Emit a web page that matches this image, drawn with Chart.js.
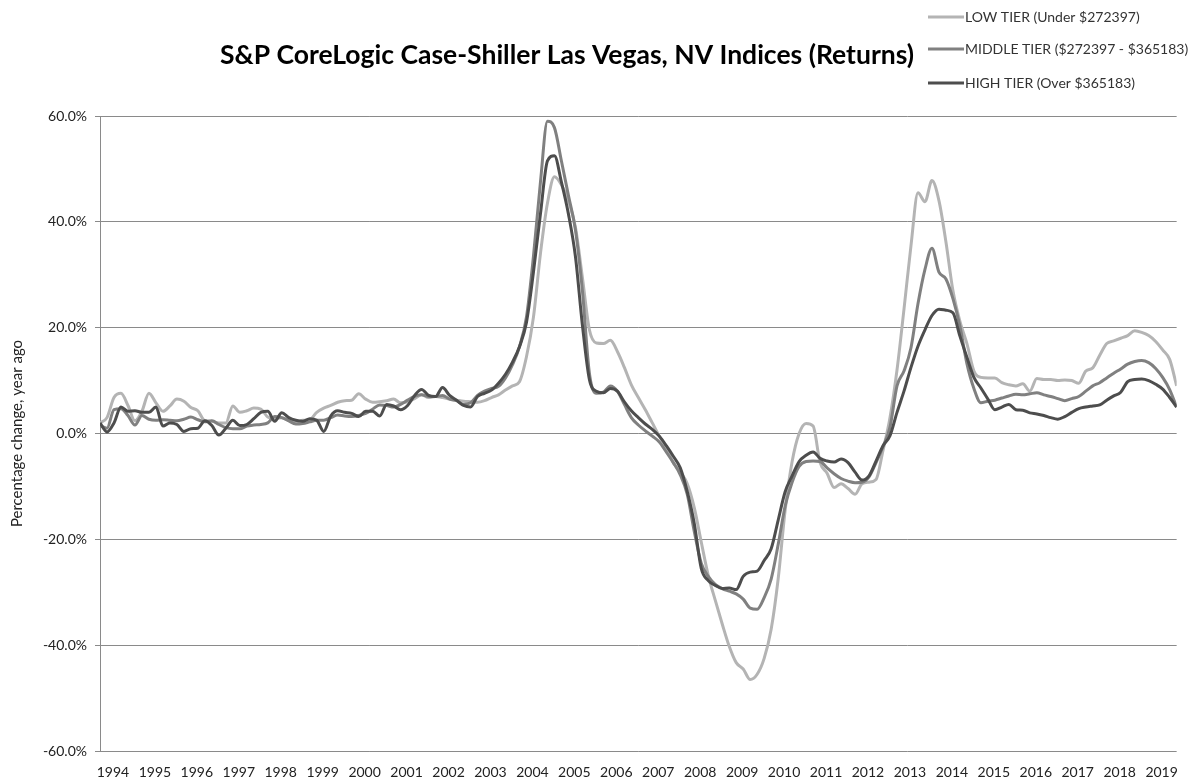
<!DOCTYPE html>
<html>
<head>
<meta charset="utf-8">
<script src="https://cdn.jsdelivr.net/npm/chart.js@4/dist/chart.umd.min.js"></script>
<style>
  html, body { margin: 0; padding: 0; background: #fff; }
  #wrap { position: relative; width: 1191px; height: 782px; }
</style>
</head>
<body>
<div id="wrap"><canvas id="myChart"></canvas></div>
<script>
// year-over-year returns, sampled every two months (first point ~late 1993)
const years = ['1994','1995','1996','1997','1998','1999','2000','2001','2002','2003','2004','2005','2006',
  '2007','2008','2009','2010','2011','2012','2013','2014','2015','2016','2017','2018','2019'];

const lowTier = [
  2.0, 3.0, 6.8, 7.6, 5.3, 2.4, 4.2, 7.6, 5.8, 4.2,
  5.2, 6.5, 6.1, 4.9, 4.3, 2.4, 2.3, 2.0, 2.0, 5.2,
  4.0, 4.3, 4.8, 4.6, 3.1, 2.8, 3.0, 2.5, 2.2, 2.5,
  2.6, 4.0, 4.8, 5.3, 5.9, 6.2, 6.3, 7.5, 6.5, 5.9,
  6.0, 6.2, 6.5, 5.8, 6.0, 6.6, 7.3, 6.8, 7.0, 6.8,
  6.5, 6.3, 6.1, 6.0, 5.9, 6.2, 6.8, 7.3, 8.2, 9.0,
  9.8, 14.5, 22.0, 34.0, 43.5, 48.5, 47.0, 44.0, 39.0, 29.5,
  19.6, 17.1, 17.0, 17.6, 15.5, 12.5, 9.2, 6.8, 4.5, 2.0,
  -0.5, -2.8, -5.5, -7.3, -9.5, -14.0, -20.5, -26.8, -31.5, -36.0,
  -40.2, -43.3, -44.5, -46.5, -45.5, -42.5, -37.0, -27.5, -14.5, -5.3,
  0.0, 1.9, 1.4, -5.5, -7.5, -10.2, -9.5, -10.4, -11.5, -9.5,
  -9.2, -8.7, -3.2, 3.0, 12.0, 23.5, 35.5, 45.5, 43.8, 47.8,
  44.0, 36.2, 27.0, 21.2, 17.0, 11.8, 10.6, 10.5, 10.5, 9.6,
  9.2, 9.0, 9.4, 8.0, 10.4, 10.2, 10.2, 10.0, 10.1, 10.0,
  9.5, 11.8, 12.4, 14.8, 17.0, 17.5, 18.0, 18.5, 19.4, 19.1,
  18.5, 17.4, 15.8, 14.0, 9.0
];

const middleTier = [
  1.5, 1.0, 4.5, 4.7, 3.4, 1.6, 3.4, 2.7, 2.5, 2.6,
  2.5, 2.4, 2.7, 3.1, 2.6, 2.2, 2.4, 1.7, 1.1, 0.9,
  0.9, 1.4, 1.6, 1.7, 2.0, 3.2, 3.0, 2.4, 1.8, 1.9,
  2.2, 2.5, 2.5, 3.0, 3.5, 3.3, 3.2, 3.4, 3.8, 4.6,
  5.4, 5.3, 5.0, 5.5, 6.3, 7.0, 7.3, 7.0, 7.0, 7.2,
  6.5, 6.2, 5.5, 5.8, 7.2, 8.0, 8.5, 8.9, 10.5, 13.0,
  16.4, 22.0, 33.5, 47.5, 59.0, 57.8, 51.5, 45.0, 38.5, 27.0,
  11.4, 7.6, 7.8, 9.0, 8.0, 5.5, 3.0, 1.6, 0.5, -0.5,
  -1.6, -3.5, -5.5, -7.8, -11.5, -18.5, -24.5, -27.0, -28.5, -29.3,
  -29.8, -30.3, -31.3, -33.0, -33.2, -31.0, -27.5, -21.0, -13.7, -9.2,
  -6.2, -5.3, -5.2, -5.3, -6.5, -7.6, -8.5, -9.0, -9.3, -9.2,
  -8.2, -5.5, -2.5, 1.2, 9.0, 11.8, 16.2, 24.5, 31.0, 35.0,
  30.5, 29.2, 25.5, 20.3, 13.2, 8.5, 5.8, 6.1, 6.3, 6.7,
  7.1, 7.4, 7.3, 7.5, 7.7, 7.3, 7.0, 6.6, 6.2, 6.6,
  7.0, 8.0, 9.0, 9.6, 10.5, 11.4, 12.2, 13.1, 13.6, 13.8,
  13.4, 12.3, 10.6, 8.3, 5.0
];

const highTier = [
  2.0, 0.3, 2.0, 5.0, 4.2, 4.3, 4.0, 4.0, 5.0, 1.4,
  2.0, 1.7, 0.4, 0.9, 1.0, 2.4, 1.5, -0.3, 1.0, 2.5,
  1.5, 1.7, 2.8, 4.0, 4.2, 2.3, 3.9, 3.0, 2.5, 2.3,
  2.8, 2.5, 0.4, 3.3, 4.3, 4.0, 3.8, 3.2, 4.2, 4.2,
  3.3, 5.5, 5.2, 4.5, 5.3, 7.2, 8.3, 7.2, 7.0, 8.7,
  7.2, 6.3, 5.3, 5.0, 7.0, 7.6, 8.2, 9.5, 11.2, 13.5,
  16.4, 21.0, 30.5, 41.5, 51.5, 52.5, 47.5, 41.5, 33.5, 20.5,
  10.2, 8.0, 7.7, 8.5, 8.0, 6.0, 4.3, 3.0, 1.8, 0.8,
  -0.5, -2.3, -4.3, -6.5, -11.0, -17.0, -25.5, -27.8, -28.7, -29.3,
  -29.2, -29.5, -27.0, -26.2, -26.0, -24.0, -21.8, -16.4, -11.0, -8.0,
  -5.3, -4.1, -3.5, -4.7, -5.2, -5.4, -4.8, -5.5, -7.3, -8.8,
  -8.0, -5.2, -2.3, -0.4, 4.0, 8.0, 12.5, 16.5, 19.6, 22.3,
  23.5, 23.3, 22.8, 18.4, 14.4, 10.6, 8.6, 6.5, 4.5, 5.0,
  5.5, 4.5, 4.4, 3.9, 3.7, 3.4, 3.0, 2.7, 3.2, 4.0,
  4.7, 5.0, 5.2, 5.4, 6.3, 7.1, 7.8, 9.8, 10.2, 10.3,
  10.0, 9.3, 8.4, 6.8, 5.0
];

const seriesLabels = ['LOW TIER (Under $272397)', 'MIDDLE TIER ($272397 - $365183)', 'HIGH TIER (Over $365183)'];
const seriesColors = ['#b4b4b4', '#808080', '#4d4d4d'];
const titleText = 'S&P CoreLogic Case-Shiller Las Vegas, NV Indices (Returns)';
const FONT = 'Lato, "Open Sans", sans-serif';

const firstYearPos = 1.85;   // where the 1994 label sits, in two-month steps
const stepsPerYear = 6;

function toPoints(arr) {
  return arr.map((v, i) => ({ x: i, y: v }));
}

// title and legend drawn in the top band
const headerPlugin = {
  id: 'header',
  afterDraw(chart) {
    const ctx = chart.ctx;
    ctx.save();
    ctx.fillStyle = '#000';
    ctx.font = 'bold 26.5px ' + FONT;
    ctx.textAlign = 'center';
    ctx.textBaseline = 'middle';
    ctx.fillText(titleText, 567, 55);

    const rows = [17, 49, 83];
    ctx.font = '14px ' + FONT;
    ctx.textAlign = 'left';
    chart.data.datasets.forEach((ds, i) => {
      ctx.strokeStyle = ds.borderColor;
      ctx.lineWidth = 3;
      ctx.beginPath();
      ctx.moveTo(928, rows[i]);
      ctx.lineTo(964, rows[i]);
      ctx.stroke();
      ctx.fillStyle = '#333';
      ctx.fillText(ds.label, 965, rows[i]);
    });
    ctx.restore();
  }
};

const ctx = document.getElementById('myChart').getContext('2d');
new Chart(ctx, {
  type: 'line',
  data: {
    datasets: [
      { label: seriesLabels[0], data: toPoints(lowTier), borderColor: seriesColors[0], order: 3 },
      { label: seriesLabels[1], data: toPoints(middleTier), borderColor: seriesColors[1], order: 2 },
      { label: seriesLabels[2], data: toPoints(highTier), borderColor: seriesColors[2], order: 1 }
    ]
  },
  options: {
    responsive: true,
    maintainAspectRatio: false,
    animation: false,
    layout: { padding: { top: 116, right: 10, bottom: 0, left: 0 } },
    elements: {
      point: { radius: 0 },
      line: { borderWidth: 3, tension: 0.3, cubicInterpolationMode: 'monotone', fill: false }
    },
    plugins: {
      legend: { display: false },
      title: { display: false },
      tooltip: { enabled: false }
    },
    scales: {
      x: {
        type: 'linear',
        min: 0,
        max: lowTier.length - 1,
        grid: { display: false, drawTicks: false },
        border: { display: false },
        afterBuildTicks(scale) {
          scale.ticks = years.map((y, k) => ({ value: firstYearPos + k * stepsPerYear }));
        },
        afterFit(scale) { scale.height = 31; },
        ticks: {
          autoSkip: false,
          maxRotation: 0,
          padding: 13,
          color: '#222',
          font: { family: FONT, size: 14 },
          callback: (v, i) => years[i]
        }
      },
      y: {
        min: -60,
        max: 60,
        grid: { color: '#8a8a8a', lineWidth: 1, tickLength: 5 },
        border: { display: true, color: '#8a8a8a' },
        afterFit(scale) { scale.width = 100; },
        title: {
          display: true,
          text: 'Percentage change, year ago',
          color: '#222',
          font: { family: FONT, size: 15 },
          padding: { top: 8, bottom: 0 }
        },
        ticks: {
          stepSize: 20,
          padding: 8,
          color: '#222',
          font: { family: FONT, size: 14 },
          callback: v => v.toFixed(1) + '%'
        }
      }
    }
  },
  plugins: [headerPlugin]
});
</script>
</body>
</html>
